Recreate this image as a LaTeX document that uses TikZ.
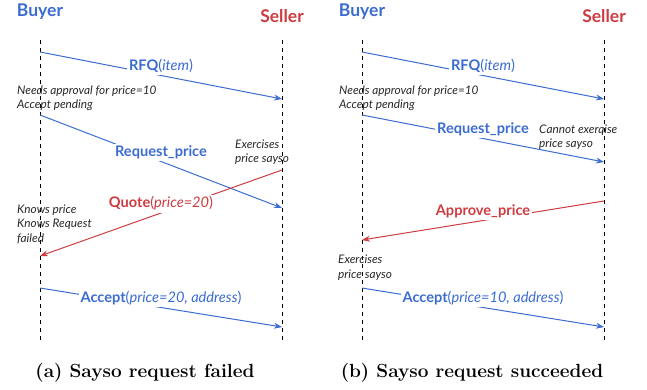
\documentclass[tikz,border=0pt]{standalone}
\usepackage{fontspec}
\newfontfamily\lblfont{Lato}
\usetikzlibrary{arrows.meta}
\definecolor{myblue}{RGB}{59,108,210}
\definecolor{myred}{RGB}{205,60,65}
\definecolor{notegray}{RGB}{40,40,40}
\begin{document}
\begin{tikzpicture}[x=1pt,y=-1pt,
 lifeline/.style={dash pattern=on 4pt off 4pt, line width=0.8pt, black},
 msg/.style={line width=1pt, -{Stealth[length=8pt,width=6pt]}},
 msglabel/.style={fill=white, inner sep=2pt, anchor=south, font=\lblfont\fontsize{14.6}{16}\selectfont},
 role/.style={font=\lblfont\fontsize{17.5}{20}\selectfont\bfseries, anchor=base},
 note/.style={font=\lblfont\fontsize{11.8}{14.5}\selectfont\itshape, text=notegray, align=left, anchor=base west, inner sep=0pt},
 captiontext/.style={font=\fontsize{19}{22}\selectfont\bfseries, anchor=base}
]
\useasboundingbox (0,0) rectangle (647,390);
% ---------- panel (a)
\node[role, text=myblue] (buyerA) at (40,17) {Buyer};
\node[role, text=myred] (sellerA) at (282,23) {Seller};
\coordinate (bAt) at (40,40); \coordinate (bAb) at (40,340);
\coordinate (sAt) at (282,40); \coordinate (sAb) at (282,340);
\draw[lifeline] (bAt) -- (bAb);
\draw[lifeline] (sAt) -- (sAb);
\coordinate (a1s) at (40,52); \coordinate (a1e) at (282,99);
\coordinate (a2s) at (40,115); \coordinate (a2e) at (282,208);
\coordinate (a3s) at (282,170); \coordinate (a3e) at (40,256);
\coordinate (a4s) at (40,288); \coordinate (a4e) at (282,327);
\draw[msg, myblue] (a1s) -- node[msglabel] (rfqA) {\textbf{RFQ}(\textit{item})} (a1e);
\draw[msg, myblue] (a2s) -- node[msglabel] (reqA) {\textbf{Request\_price}} (a2e);
\draw[msg, myred] (a3s) -- node[msglabel] (quoteA) {\textbf{Quote}(\textit{price=20})} (a3e);
\draw[msg, myblue] (a4s) -- node[msglabel] (acceptA) {\textbf{Accept}(\textit{price=20, address})} (a4e);
\node[note] (needA) at (17,109) {Needs approval for price=10\\Accept pending};
\node[note] (exA) at (235,163) {Exercises\\price sayso};
\node[note] (knowsA) at (17,242) {Knows price\\Knows Request\\failed};
\node[captiontext] (capA) at (145,377) {(a) Sayso request failed};
% ---------- panel (b)
\node[role, text=myblue] (buyerB) at (362,17) {Buyer};
\node[role, text=myred] (sellerB) at (604,23) {Seller};
\coordinate (bBt) at (362,40); \coordinate (bBb) at (362,340);
\coordinate (sBt) at (604,40); \coordinate (sBb) at (604,340);
\draw[lifeline] (bBt) -- (bBb);
\draw[lifeline] (sBt) -- (sBb);
\coordinate (b1s) at (362,52); \coordinate (b1e) at (604,99);
\coordinate (b2s) at (362,115); \coordinate (b2e) at (604,162);
\coordinate (b3s) at (604,201); \coordinate (b3e) at (362,240);
\coordinate (b4s) at (362,288); \coordinate (b4e) at (604,327);
\draw[msg, myblue] (b1s) -- node[msglabel] (rfqB) {\textbf{RFQ}(\textit{item})} (b1e);
\draw[msg, myblue] (b2s) -- node[msglabel] (reqB) {\textbf{Request\_price}} (b2e);
\draw[msg, myred] (b3s) -- node[msglabel] (approveB) {\textbf{Approve\_price}} (b3e);
\draw[msg, myblue] (b4s) -- node[msglabel] (acceptB) {\textbf{Accept}(\textit{price=10, address})} (b4e);
\node[note] (needB) at (339,109) {Needs approval for price=10\\Accept pending};
\node[note] (cannotB) at (539,148) {Cannot exerqise\\price sayso};
\node[note] (exB) at (338,278) {Exercises\\price sayso};
\node[captiontext] (capB) at (472,377) {(b) Sayso request succeeded};
\end{tikzpicture}
\end{document}
